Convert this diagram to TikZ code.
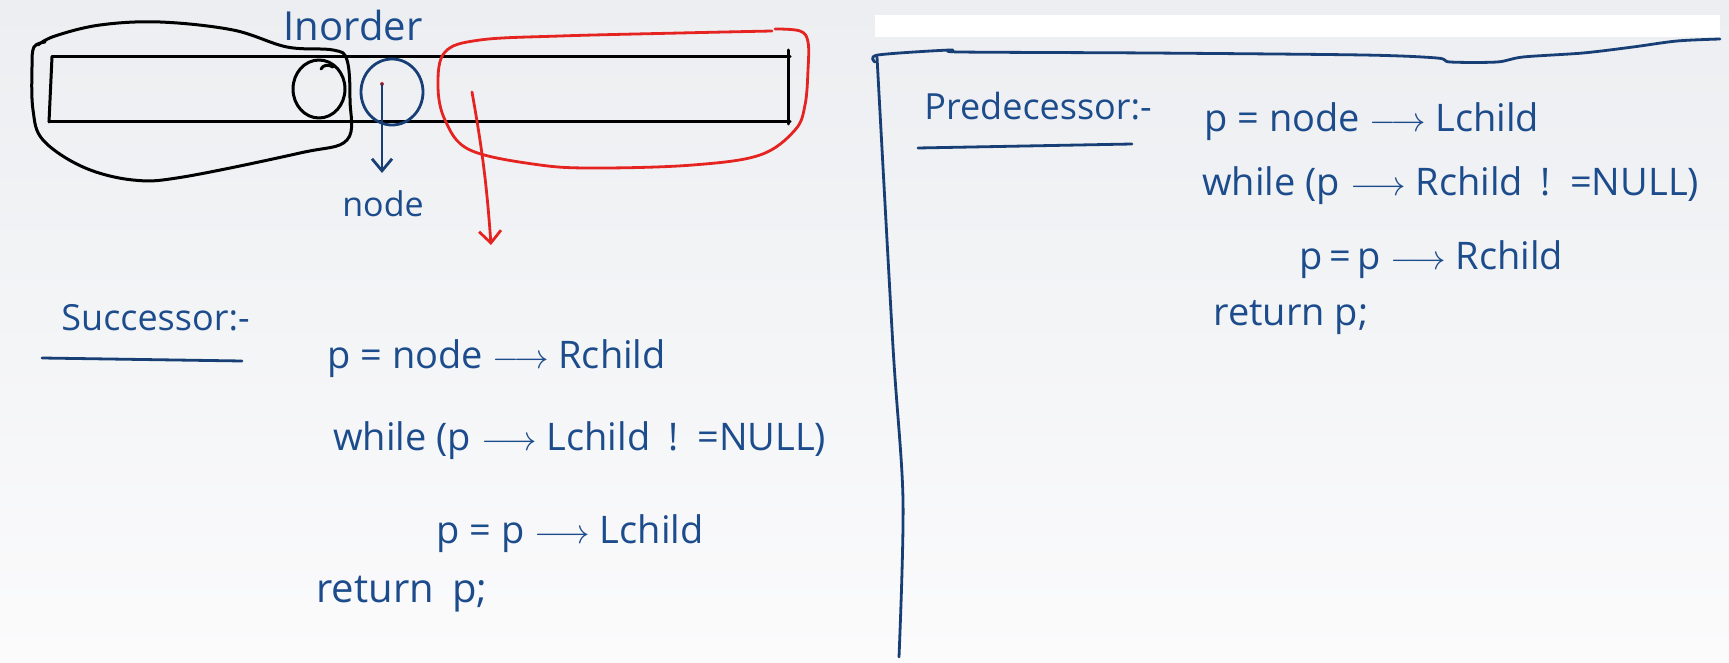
\documentclass[tikz,border=0pt]{standalone}
\usepackage{fontspec}
\setmainfont{Open Sans}
\usetikzlibrary{arrows.meta,shapes.geometric}
\definecolor{ink}{HTML}{1D4C8C}
\definecolor{inkline}{HTML}{173F75}
\definecolor{redink}{HTML}{E52421}
\definecolor{bgtop}{HTML}{ECEEF1}
\definecolor{bgbot}{HTML}{FBFBFC}
\begin{document}
\begin{tikzpicture}[x=0.5pt,y=-0.5pt,
  blk/.style={draw=black,line width=1.5pt,line cap=round,line join=round},
  blu/.style={draw=inkline,line width=1.4pt,line cap=round,line join=round},
  rd/.style={draw=redink,line width=1.4pt,line cap=round,line join=round},
  code/.style={anchor=base west,inner sep=0pt,text=ink,font=\fontsize{19}{23}\selectfont},
  head/.style={anchor=base west,inner sep=0pt,text=ink,font=\fontsize{18}{22}\selectfont},
  barb/.style={-{Straight Barb[length=6pt,width=10pt]}}
]
\useasboundingbox (0,0) rectangle (1729,663);
\shade[top color=bgtop,bottom color=bgbot] (0,0) rectangle (1729,663);
\fill[white] (875,15) rectangle (1720,37);

% black array rectangle
\draw[blk] (52,57) -- (790,57);
\draw[blk] (49,122) -- (790,122);
\draw[blk] (52,57) -- (49,122);
\draw[blk] (788,50) -- (788,124);

% black loop (left subtree)
\draw[blk] plot[smooth,tension=0.6] coordinates {(45,42) (34,47) (32,67) (33,110) (43,140) (83,167) (133,180) (183,177) (300,153) (347,140) (350,100) (347,60) (333,50) (287,47) (233,30) (160,22) (100,25) (55,36) (38,45)};
% small black circle (predecessor)
\draw[blk] (319,89) ellipse [x radius=26, y radius=29];
\draw[blk] (321,69) .. controls (323,65) and (328,64) .. (333,67);

% blue circle (current node)
\node[ellipse,draw=inkline,line width=1.4pt,minimum width=31pt,minimum height=33pt,inner sep=0pt] (cur) at (392,92) {};
\coordinate (dot) at (382,84);
\fill[redink] (dot) circle (2);
\coordinate (ntip) at (382,173);
\draw[blu,barb] (dot) -- (ntip);
\node[text=ink,font=\fontsize{17}{20}\selectfont,inner sep=0pt] (nodelbl) at (383,204) {node};
\node[text=ink,font=\fontsize{20}{24}\selectfont,inner sep=0pt] (inorder) at (353,26) {Inorder};

% red loop (right subtree)
\draw[rd] plot[smooth,tension=0.6] coordinates {(775,29) (800,31) (808,42) (808,70) (805,105) (795,130) (760,155) (693,165) (600,168) (540,165) (470,150) (445,120) (438,85) (445,52) (480,40) (560,36) (680,33) (772,31)};
\coordinate (rstart) at (472,92);
\coordinate (rend) at (491,245);
\draw[rd,-{Straight Barb[length=6pt,width=11pt]}] (rstart) to[bend left=3] (rend);

% Successor
\node[head] (succ) at (61,330) {Successor:-};
\draw[blu] (42,358) -- (242,361);
\node[code] (s1) at (327,368) {p = node $\longrightarrow$ Rchild};
\node[code] (s2) at (333,450) {while (p $\longrightarrow$ Lchild\hspace{4pt} !\hspace{3pt} =NULL)};
\node[code] (s3) at (436,543) {p = p $\longrightarrow$ Lchild};
\node[code,font=\fontsize{20}{24}\selectfont] (s4) at (316,602) {return\hspace{4pt} p;};

% Predecessor panel
\draw[blu] plot[smooth,tension=0.5] coordinates {(875,62) (878,55) (950,50) (960,52) (1150,53) (1363,55) (1437,58) (1450,62) (1497,62) (1523,57) (1583,53) (1633,47) (1677,41) (1720,39)};
\draw[blu] plot[smooth,tension=0.5] coordinates {(877,57) (893,347) (903,500) (899,657)};
\node[head] (pred) at (924,120) {Predecessor:-};
\draw[blu] (918,148) -- (1132,144);
\node[code] (p1) at (1204,132) {p = node $\longrightarrow$ Lchild};
\node[code] (p2) at (1202,196) {while (p $\longrightarrow$ Rchild\hspace{4pt} !\hspace{3pt} =NULL)};
\node[code] (p3) at (1299,270) {p\,=\,p $\longrightarrow$ Rchild};
\node[code] (p4) at (1213,325) {return p;};
\end{tikzpicture}
\end{document}
